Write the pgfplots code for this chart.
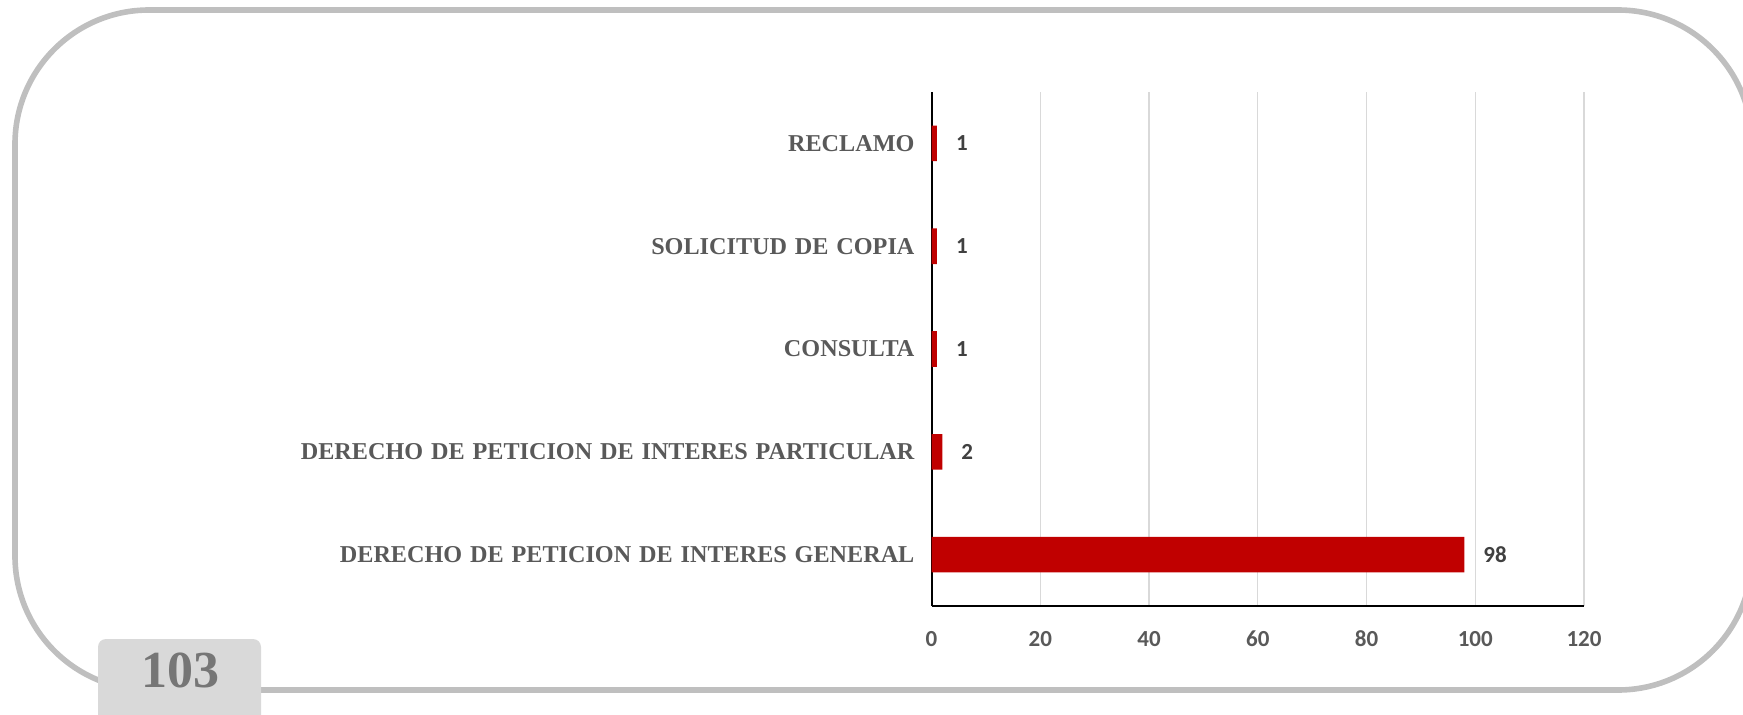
\documentclass[border=0pt]{standalone}
\usepackage{fontspec}
\setmainfont{Liberation Serif}
\newfontfamily\labfont{Liberation Serif}[WordSpace=1.3]
\newfontfamily\carlito{Carlito}
\usepackage{pgfplots}
\pgfplotsset{compat=1.18}
\definecolor{barred}{HTML}{C00000}
\definecolor{framegray}{HTML}{BFBFBF}
\definecolor{boxgray}{HTML}{D9D9D9}
\definecolor{numgray}{HTML}{767676}
\definecolor{labgray}{HTML}{595959}
\definecolor{valgray}{HTML}{404040}
\definecolor{gridgray}{HTML}{D9D9D9}
\begin{document}
\begin{tikzpicture}
\useasboundingbox (0pt,0pt) rectangle (871.5pt,357pt);
\begin{scope}
\clip (0pt,0pt) rectangle (871.5pt,357pt);
\draw[line width=2.8pt, color=framegray, rounded corners=67pt] (7.5pt,12pt) rectangle (876pt,352pt);
\fill[boxgray, rounded corners=4pt] (49pt,-10pt) rectangle (130.5pt,37.5pt);
\node[text=numgray, font=\bfseries\fontsize{26}{28}\selectfont] at (90pt,22pt) {103};
\end{scope}
\begin{axis}[
  at={(465.75pt,54pt)}, anchor=south west,
  scale only axis, width=326.25pt, height=257pt,
  xbar, bar width=17.8pt,
  xmin=0, xmax=120, ymin=-0.5, ymax=4.5,
  xtick={0,20,40,60,80,100,120},
  ytick={0,1,2,3,4},
  yticklabels={DERECHO DE PETICION DE INTERES GENERAL, DERECHO DE PETICION DE INTERES PARTICULAR, CONSULTA, SOLICITUD DE COPIA, RECLAMO},
  axis x line*=bottom, axis y line*=left,
  axis line style={-, line width=1pt, black},
  major tick length=0pt,
  xmajorgrids, major grid style={gridgray, line width=0.6pt},
  /pgf/number format/assume math mode=true,
  xticklabel style={font=\carlito\bfseries\fontsize{11.5}{13}\selectfont, text=labgray, yshift=-9pt},
  yticklabel style={font=\labfont\bfseries\fontsize{12.1}{13}\selectfont, text=labgray, xshift=-5pt},
  nodes near coords,
  every node near coord/.append style={font=\carlito\bfseries\fontsize{11.5}{13}\selectfont, text=valgray, anchor=west, xshift=6pt},
  clip=false,
]
\addplot[fill=barred, draw=none] coordinates {(98,0) (2,1) (1,2) (1,3) (1,4)};
\end{axis}
\end{tikzpicture}
\end{document}
